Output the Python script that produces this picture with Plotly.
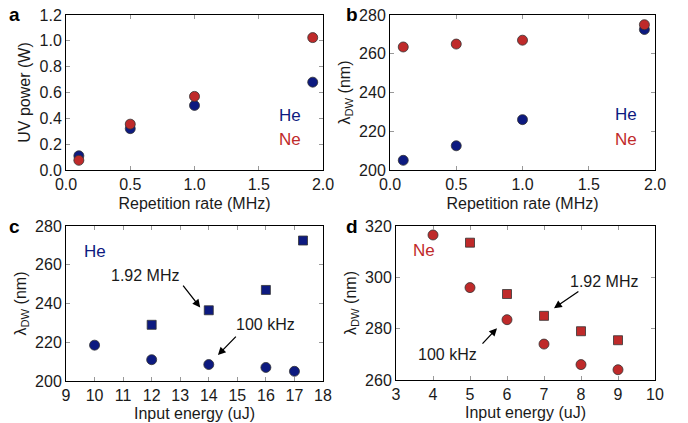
import plotly.graph_objects as go

W, H = 688, 423

# ---- data ----
rate_mhz = [0.1, 0.5, 1.0, 1.92]
a_he_power = [0.11, 0.32, 0.50, 0.68]
a_ne_power = [0.075, 0.355, 0.57, 1.025]
b_he_lambda = [205, 212.5, 226, 272.5]
b_ne_lambda = [263.5, 265, 267, 275]

c_energy_100k = [10, 12, 14, 16, 17]
c_lambda_100k = [218.5, 211, 208.5, 207, 205]
c_energy_192 = [12, 14, 16, 17.3]
c_lambda_192 = [229, 236.5, 247, 272.5]

d_energy_100k = [4, 5, 6, 7, 8, 9]
d_lambda_100k = [316.5, 296, 283.5, 274, 266, 264]
d_energy_192 = [5, 6, 7, 8, 9]
d_lambda_192 = [313.5, 293.5, 285, 279, 275.5]

BLUE = "#0d1a80"
RED = "#bf2a2a"
FONT = "Liberation Sans, Arial, sans-serif"
TXT = "#1a1a1a"

def px_x(p):
    return p / W

def px_y(p):
    return 1 - p / H

fig = go.Figure()

def mk(color, symbol="circle", size=10):
    return dict(color=color, size=size, symbol=symbol,
                line=dict(color="#333333", width=0.8))

fig.add_trace(go.Scatter(x=rate_mhz, y=a_he_power, mode="markers", marker=mk(BLUE), xaxis="x", yaxis="y"))
fig.add_trace(go.Scatter(x=rate_mhz, y=a_ne_power, mode="markers", marker=mk(RED), xaxis="x", yaxis="y"))
fig.add_trace(go.Scatter(x=rate_mhz, y=b_he_lambda, mode="markers", marker=mk(BLUE), xaxis="x2", yaxis="y2"))
fig.add_trace(go.Scatter(x=rate_mhz, y=b_ne_lambda, mode="markers", marker=mk(RED), xaxis="x2", yaxis="y2"))
fig.add_trace(go.Scatter(x=c_energy_100k, y=c_lambda_100k, mode="markers", marker=mk(BLUE), xaxis="x3", yaxis="y3"))
fig.add_trace(go.Scatter(x=c_energy_192, y=c_lambda_192, mode="markers", marker=mk(BLUE, "square", 9), xaxis="x3", yaxis="y3"))
fig.add_trace(go.Scatter(x=d_energy_100k, y=d_lambda_100k, mode="markers", marker=mk(RED), xaxis="x4", yaxis="y4"))
fig.add_trace(go.Scatter(x=d_energy_192, y=d_lambda_192, mode="markers", marker=mk(RED, "square", 9), xaxis="x4", yaxis="y4"))

def axis(domain, rng, dtick, title, anchor, standoff):
    return dict(domain=domain, range=rng, dtick=dtick, tick0=rng[0],
                ticks="inside", ticklen=4, tickcolor="#999999", tickwidth=1,
                showline=True, linecolor="black", linewidth=1, mirror="allticks",
                showgrid=False, zeroline=False, anchor=anchor, automargin=False,
                tickfont=dict(size=16, color=TXT, family=FONT),
                title=dict(text=title, font=dict(size=16, color=TXT, family=FONT), standoff=standoff))

# pixel frames
fa = (66, 323, 15, 170)
fb = (390, 655, 15, 170)
fc = (66, 323, 226, 381)
fd = (396, 655, 226, 380)

def dom_x(f):
    return [px_x(f[0]), px_x(f[1])]

def dom_y(f):
    return [px_y(f[3]), px_y(f[2])]

lam = "λ<sub>DW</sub> (nm)"
fig.update_layout(
    template="none",
    width=W, height=H, margin=dict(l=0, r=0, t=0, b=0, autoexpand=False),
    paper_bgcolor="white", plot_bgcolor="white", showlegend=False,
    font=dict(family=FONT),
    xaxis=axis(dom_x(fa), [0, 2.0], 0.5, "Repetition rate (MHz)", "y", 5),
    yaxis=axis(dom_y(fa), [0, 1.2], 0.2, "UV power (W)", "x", 4),
    xaxis2=axis(dom_x(fb), [0, 2.0], 0.5, "Repetition rate (MHz)", "y2", 5),
    yaxis2=axis(dom_y(fb), [200, 280], 20, lam, "x2", 4),
    xaxis3=axis(dom_x(fc), [9, 18], 1, "Input energy (uJ)", "y3", 4),
    yaxis3=axis(dom_y(fc), [200, 280], 20, lam, "x3", 4),
    xaxis4=axis(dom_x(fd), [3, 10], 1, "Input energy (uJ)", "y4", 4),
    yaxis4=axis(dom_y(fd), [260, 320], 20, lam, "x4", 4),
)
fig.layout.xaxis.tickformat = ".1f"
fig.layout.xaxis2.tickformat = ".1f"
fig.layout.yaxis.tickformat = ".1f"

ann = []
def txt(x, y, t, xr, yr, color, size=16, xanchor="center"):
    ann.append(dict(x=x, y=y, text=t, xref=xr, yref=yr, showarrow=False,
                    font=dict(size=size, color=color, family=FONT), xanchor=xanchor, yanchor="middle"))

txt(1.74, 0.425, "He", "x", "y", BLUE, 17)
txt(1.74, 0.24, "Ne", "x", "y", RED, 17)
txt(1.78, 228.4, "He", "x2", "y2", BLUE, 17)
txt(1.78, 216, "Ne", "x2", "y2", RED, 17)
txt(9.55, 267, "He", "x3", "y3", BLUE, 17, "left")
txt(3.76, 310.3, "Ne", "x4", "y4", RED, 17)
txt(11.77, 254.7, "1.92 MHz", "x3", "y3", TXT, 16)
txt(15.97, 229, "100 kHz", "x3", "y3", TXT, 16)
txt(8.62, 298.2, "1.92 MHz", "x4", "y4", TXT, 16)
txt(4.38, 270.1, "100 kHz", "x4", "y4", TXT, 16)

def arrow(xh, yh, xt, yt, xr, yr):
    ann.append(dict(x=xh, y=yh, ax=xt, ay=yt, xref=xr, yref=yr, axref=xr, ayref=yr,
                    text="", showarrow=True, arrowhead=2, arrowsize=1.2, arrowwidth=1.3,
                    arrowcolor="black"))

arrow(13.7, 238, 13.06, 250, "x3", "y3")
arrow(14.32, 213.4, 15.0, 223.7, "x3", "y3")
arrow(7.27, 288, 7.97, 294.9, "x4", "y4")
arrow(5.73, 280.2, 5.30, 273.6, "x4", "y4")

for letter, xp, yp in [("a", 14, 14), ("b", 352, 14), ("c", 14, 226), ("d", 352, 226)]:
    ann.append(dict(x=px_x(xp), y=px_y(yp), xref="paper", yref="paper", text="<b>%s</b>" % letter,
                    showarrow=False, font=dict(size=19, color="black", family=FONT),
                    xanchor="center", yanchor="middle"))

fig.update_layout(annotations=ann)
fig.write_html("out.html", config={"displayModeBar": False},
               post_script="document.body.style.margin='0';document.body.style.overflow='hidden';")
